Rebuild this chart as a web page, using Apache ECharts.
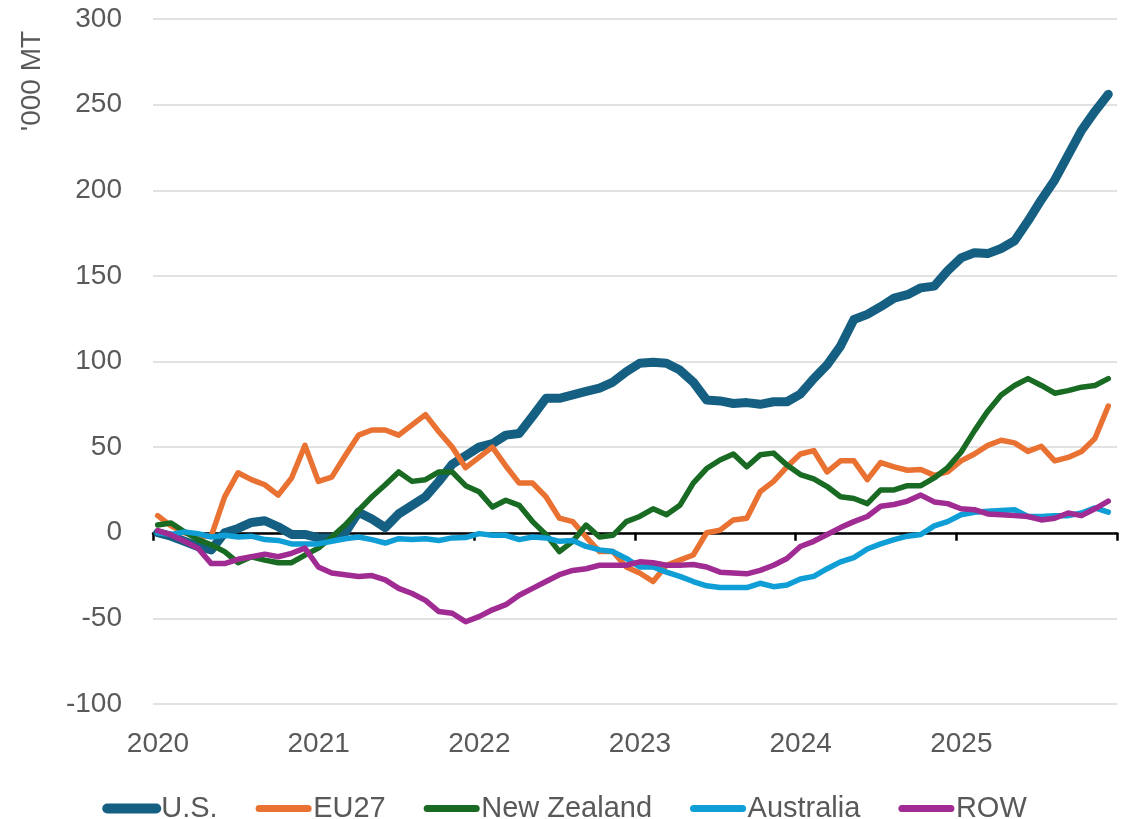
<!DOCTYPE html>
<html>
<head>
<meta charset="utf-8">
<title>Exports by destination</title>
<script src="https://cdn.jsdelivr.net/npm/echarts@6/dist/echarts.min.js"></script>
<style>
html, body { margin: 0; padding: 0; background: #ffffff; }
#chart { width: 1129px; height: 819px; }
</style>
</head>
<body>
<div id="chart"></div>
<script>
// monthly values, Jan 2020 .. Dec 2025 ('000 MT)
var startYear = 2020;
var yearCount = 6;
var monthOffset = 0.35; // points sit a bit past the month tick

var seriesNames = ["U.S.", "EU27", "New Zealand", "Australia", "ROW"];

var usValues = [
	0, -2, -5, -8, -10, 0, 2.5, 6, 7, 3.5, -1, -1,
	-3, -3, 0, 12, 8, 3, 11, 16, 21, 30, 40, 45,
	50, 52, 57, 58, 68, 78.5, 78.5, 80.5, 82.5, 84.5, 88, 94,
	99, 99.5, 99, 95, 88, 77.5, 77, 75.5, 76, 75, 76.5, 76.5,
	81, 90, 98, 109, 124.5, 127.5, 132, 137, 139, 143, 144, 153,
	160.5, 163.5, 163, 166, 170.5, 182, 194.5, 206, 220.5, 235, 246, 256
];
var eu27Values = [
	10, 4, 0, -2, -2, 21, 35, 31, 28, 22, 32, 51,
	30, 32.5, 45, 57, 60, 60, 57, 63, 69, 59, 50, 38,
	44, 50, 39, 29, 29, 21, 8.5, 6.5, -2.5, -11, -11, -20,
	-23.5, -28.5, -19, -16, -13, 0, 1.5, 7.5, 8.5, 24, 30, 38.5,
	46, 48, 35.5, 42, 42, 31, 41, 38.5, 36.5, 37, 33.5, 35.5,
	42, 46, 51, 54, 52.5, 47.5, 50.5, 42, 44, 47.5, 55, 74
];
var nzValues = [
	4.5, 5.7, 0.6, -4, -7, -11, -17.5, -14, -16, -17.5, -17.5, -13,
	-9, -2.5, 4.5, 13, 21, 28, 35.5, 30, 31, 35.5, 35.5, 27.5,
	24, 15, 19, 16, 6.5, -1, -11, -5, 4.5, -2.5, -1.5, 6.5,
	9.5, 14, 10.5, 16, 29, 37.5, 42.5, 46, 38.5, 45.5, 46.5, 39.5,
	34, 31.5, 27, 21, 20, 17, 25, 25, 27.5, 27.5, 32, 38,
	47, 59.5, 71, 80.5, 86, 90, 86, 81.5, 83, 85, 86, 90
];
var australiaValues = [
	0, -1, 0.5, -0.5, -2.5, -1.5, -2.5, -2, -4, -4.5, -6.5, -6.5,
	-6.5, -5, -3.5, -2.5, -4, -6, -3.5, -4, -3.5, -4.5, -3, -2.8,
	-0.5, -1.5, -1.5, -4, -2.5, -3, -5, -4.5, -8, -10, -11, -15,
	-20, -20, -23, -25.5, -28.5, -31, -32, -32, -32, -29.5, -31.5, -30.5,
	-27, -25.5, -21, -17, -14.5, -9.5, -6.5, -4, -2, -1, 4, 6.5,
	10.5, 12, 12.5, 13, 13.5, 9.5, 9.5, 10, 10, 11.5, 14.5, 12
];
var rowValues = [
	1.2, -1.3, -5, -9, -18, -18, -15.5, -14, -12.5, -14, -12, -9,
	-20, -23.5, -24.5, -25.5, -25, -27.5, -32.5, -35.5, -39.5, -46, -47, -52,
	-49, -45, -42, -36.5, -32.5, -28.5, -24.5, -22, -21, -19, -19, -19,
	-17, -17.5, -19, -19, -18.5, -20, -23, -23.5, -24, -22, -19, -15,
	-8, -5, -1, 3, 6.5, 9.5, 15.5, 16.5, 18.5, 22, 18, 17,
	14, 13.5, 11, 10.5, 10, 9.5, 7.5, 8.5, 11.5, 10, 14, 18.5
];

var yTicks = [-100, -50, 0, 50, 100, 150, 200, 250, 300];

var colors = ["#156082", "#E97132", "#196B24", "#0F9ED5", "#A02B93"];
var lineWidths = [9, 5.5, 5.5, 5.5, 5.5];
var legendWidths = [10, 7, 7, 7, 7];
var textColor = "#595959";
var fontFamily = "'Liberation Sans', Arial, sans-serif";

function toPoints(values){
	var pts = [];
	for (var i = 0; i < values.length; i++) {
		pts.push([i + monthOffset, values[i]]);
	}
	return pts;
}

var allValues = [usValues, eu27Values, nzValues, australiaValues, rowValues];
var series = [];
var legendData = [];
for (var s = 0; s < seriesNames.length; s++) {
	series.push({
		name: seriesNames[s],
		type: "line",
		xAxisIndex: 0,
		data: toPoints(allValues[s]),
		showSymbol: false,
		symbol: "none",
		smooth: false,
		lineStyle: { color: colors[s], width: lineWidths[s], cap: "round", join: "round" },
		itemStyle: { color: colors[s] },
		emphasis: { disabled: true }
	});
	// legend keeps the line, hides the point marker
	legendData.push({
		name: seriesNames[s],
		itemStyle: { opacity: 0 },
		lineStyle: { width: legendWidths[s], cap: "round" }
	});
}

var myChart = echarts.init(document.getElementById("chart"), null, { renderer: "canvas" });

var option = {
	animation: false,
	color: colors,
	textStyle: { fontFamily: fontFamily },
	grid: { left: 153, right: 12, top: 19, bottom: 115, containLabel: false },
	legend: {
		data: legendData,
		left: "center",
		top: 789,
		itemWidth: 49,
		itemHeight: 12,
		itemGap: 38,
		textStyle: { fontSize: 29, color: textColor, fontFamily: fontFamily }
	},
	graphic: [{
		type: "text",
		x: 32,
		y: 81,
		rotation: Math.PI / 2,
		style: {
			text: "'000 MT",
			fontSize: 28,
			fontFamily: fontFamily,
			fill: textColor,
			align: "center",
			verticalAlign: "middle"
		}
	}],
	xAxis: [{
		// zero line with year ticks
		type: "value",
		min: 0,
		max: yearCount * 12,
		interval: 12,
		position: "bottom",
		axisLine: { show: true, onZero: true, lineStyle: { color: "#000000", width: 2.5 } },
		axisTick: { show: true, length: 8, lineStyle: { color: "#000000", width: 2.5 } },
		axisLabel: { show: false },
		splitLine: { show: false }
	}, {
		// year labels at the bottom
		type: "value",
		min: 0,
		max: yearCount * 12,
		interval: 12,
		position: "bottom",
		axisLine: { show: false, onZero: false },
		axisTick: { show: false },
		splitLine: { show: false },
		axisLabel: {
			fontSize: 28,
			color: textColor,
			margin: 26,
			padding: [0, 0, 0, 10],
			formatter: function(v){
				if (v >= yearCount * 12) return "";
				return String(startYear + v / 12);
			}
		}
	}],
	yAxis: {
		type: "value",
		min: yTicks[0],
		max: yTicks[yTicks.length - 1],
		interval: 50,
		axisLine: { show: false },
		axisTick: { show: false },
		axisLabel: { fontSize: 28, color: textColor, margin: 31 },
		splitLine: { show: true, lineStyle: { color: "#d9d9d9", width: 1.5 } }
	},
	series: series
};

myChart.setOption(option);
window.addEventListener("resize", function(){ myChart.resize(); });
</script>
</body>
</html>
